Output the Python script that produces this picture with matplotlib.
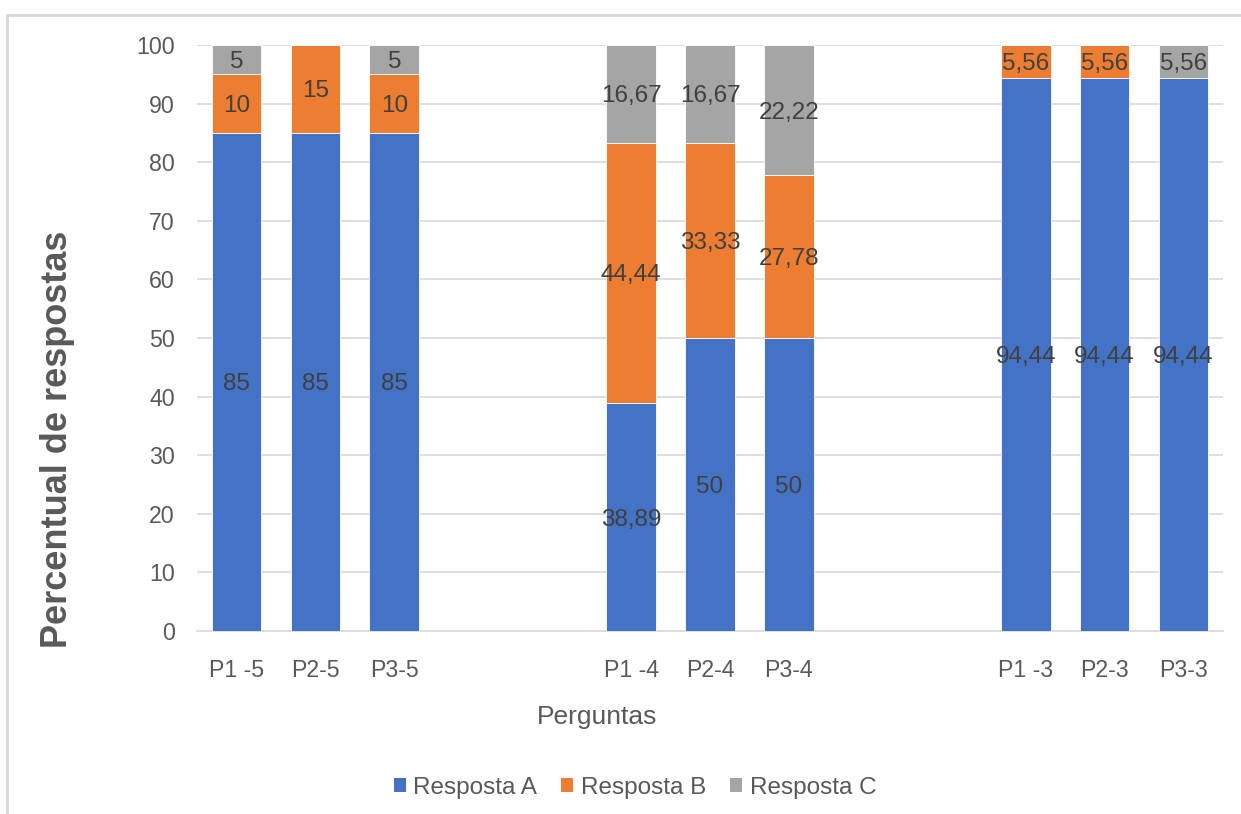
import matplotlib
matplotlib.use("Agg")
import matplotlib.pyplot as plt
from matplotlib.lines import Line2D
from matplotlib.patches import Patch

plt.rcParams['font.family'] = ['Liberation Sans', 'DejaVu Sans']

categories = ["P1 -5", "P2-5", "P3-5", "P1 -4", "P2-4", "P3-4", "P1 -3", "P2-3", "P3-3"]
positions = [0, 1, 2, 5, 6, 7, 10, 11, 12]
resp_a = [85, 85, 85, 38.89, 50, 50, 94.44, 94.44, 94.44]
resp_b = [10, 15, 10, 44.44, 33.33, 27.78, 5.56, 5.56, 0]
resp_c = [5, 0, 5, 16.67, 16.67, 22.22, 0, 0, 5.56]
series_names = ["Resposta A", "Resposta B", "Resposta C"]
colors = ["#4472C4", "#ED7D31", "#A5A5A5"]

fig = plt.figure(figsize=(12.41, 8.14), dpi=100)
ax = fig.add_axes([197/1241, 1 - 631/814, (1223-197)/1241, (631-45)/814])

bottom = [0]*len(positions)
for vals, col in zip([resp_a, resp_b, resp_c], colors):
    ax.bar(positions, vals, width=0.63, bottom=bottom, color=col,
           edgecolor='white', linewidth=0.6, zorder=3)
    for x, v, b in zip(positions, vals, bottom):
        if v > 0:
            lab = ('%g' % v).replace('.', ',')
            ax.text(x, b + v/2, lab, ha='center', va='center_baseline', fontsize=17.5,
                    color='#404040', zorder=4)
    bottom = [b + v for b, v in zip(bottom, vals)]

ax.set_xlim(-0.5, 12.5)
ax.set_ylim(0, 100)
ax.set_yticks(range(0, 101, 10))
ax.set_xticks(positions)
ax.set_xticklabels(categories)
ax.tick_params(axis='both', length=0, labelsize=16.7, colors='#595959')
ax.tick_params(axis='x', pad=20)
ax.tick_params(axis='y', pad=16)
ax.yaxis.grid(True, color='#D9D9D9', linewidth=1.2, zorder=0)
ax.set_axisbelow(True)
for s in ['top', 'right', 'left']:
    ax.spines[s].set_visible(False)
ax.spines['bottom'].set_color('#D9D9D9')
ax.spines['bottom'].set_linewidth(1.2)

fig.text(58/1241, 1 - 439/814, "Percentual de respostas", rotation=90, ha='center',
         va='center', fontsize=26, fontweight='bold', color='#595959')
fig.text(597/1241, 1 - 717/814, "Perguntas", ha='center', va='center',
         fontsize=19, color='#595959')

handles = [Patch(facecolor=c, edgecolor='none') for c in colors]
leg = fig.legend(handles, series_names, loc='center', bbox_to_anchor=(635/1241, 1 - 788/814),
                 ncol=3, frameon=False, fontsize=17.5, handlelength=0.5, handleheight=0.5,
                 handletextpad=0.3, columnspacing=1.0)
for t in leg.get_texts():
    t.set_color('#595959')

# outer chart border (top and left visible)
fig.add_artist(Line2D([7/1241, 1], [1 - 15/814, 1 - 15/814], color='#D9D9D9', linewidth=2,
                      transform=fig.transFigure))
fig.add_artist(Line2D([7/1241, 7/1241], [0, 1 - 15/814], color='#D9D9D9', linewidth=2,
                      transform=fig.transFigure))

fig.savefig("out.png", dpi=100)
